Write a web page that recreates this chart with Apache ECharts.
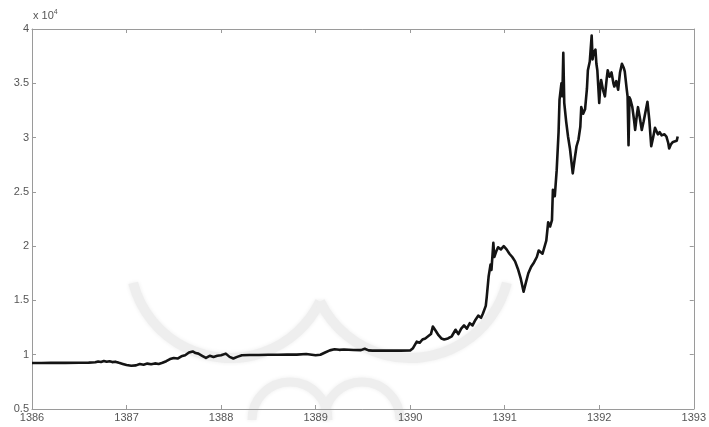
<!DOCTYPE html>
<html>
<head>
<meta charset="utf-8">
<script src="https://cdn.jsdelivr.net/npm/echarts@6/dist/echarts.min.js"></script>
<style>
  html, body { margin: 0; padding: 0; background: #fff; }
  #chart { width: 709px; height: 427px; }
</style>
</head>
<body>
<div id="chart"></div>
<script>
// Time axis (fractional year) and index value
const years = [
  1386.00, 1386.10, 1386.20, 1386.35, 1386.50, 1386.60, 1386.67, 1386.70, 1386.73, 1386.76,
  1386.79, 1386.82, 1386.85, 1386.88, 1386.92, 1386.96, 1387.00, 1387.05, 1387.10, 1387.14,
  1387.18, 1387.22, 1387.26, 1387.30, 1387.34, 1387.38, 1387.42, 1387.46, 1387.50, 1387.54,
  1387.58, 1387.62, 1387.66, 1387.70, 1387.73, 1387.76, 1387.80, 1387.84, 1387.88, 1387.92,
  1387.96, 1388.00, 1388.05, 1388.09, 1388.13, 1388.17, 1388.22, 1388.30, 1388.40, 1388.50,
  1388.60, 1388.70, 1388.80, 1388.90, 1389.00, 1389.05, 1389.10, 1389.15, 1389.20, 1389.25,
  1389.30, 1389.40, 1389.48, 1389.52, 1389.54, 1389.56, 1389.60, 1389.70, 1389.80, 1389.90,
  1390.00, 1390.03, 1390.05, 1390.07, 1390.10, 1390.13, 1390.16, 1390.19, 1390.22, 1390.24,
  1390.27, 1390.30, 1390.33, 1390.36, 1390.40, 1390.44, 1390.48, 1390.51, 1390.54, 1390.57,
  1390.60, 1390.63, 1390.66, 1390.69, 1390.72, 1390.75, 1390.77, 1390.80, 1390.81, 1390.83,
  1390.85, 1390.86, 1390.88, 1390.89, 1390.91, 1390.93, 1390.96, 1390.99, 1391.02, 1391.05,
  1391.08, 1391.11, 1391.14, 1391.17, 1391.20, 1391.22, 1391.25, 1391.28, 1391.31, 1391.34,
  1391.36, 1391.40, 1391.42, 1391.44, 1391.46, 1391.48, 1391.50, 1391.51, 1391.53, 1391.55,
  1391.57, 1391.58, 1391.60, 1391.61, 1391.62, 1391.63, 1391.65, 1391.67, 1391.69, 1391.72,
  1391.74, 1391.76, 1391.78, 1391.80, 1391.81, 1391.83, 1391.85, 1391.87, 1391.88, 1391.90,
  1391.92, 1391.93, 1391.94, 1391.96, 1391.97, 1391.98, 1392.00, 1392.01, 1392.02, 1392.04,
  1392.06, 1392.08, 1392.09, 1392.11, 1392.13, 1392.15, 1392.16, 1392.18, 1392.20, 1392.22,
  1392.24, 1392.26, 1392.27, 1392.29, 1392.30, 1392.31, 1392.32, 1392.33, 1392.35, 1392.37,
  1392.38, 1392.40, 1392.41, 1392.43, 1392.45, 1392.47, 1392.49, 1392.51, 1392.53, 1392.55,
  1392.57, 1392.59, 1392.62, 1392.64, 1392.66, 1392.69, 1392.71, 1392.73, 1392.74, 1392.76,
  1392.78, 1392.80, 1392.82, 1392.83
];
const values = [
  9230, 9240, 9250, 9250, 9260, 9270, 9300, 9380, 9330, 9420,
  9350, 9400, 9320, 9360, 9250, 9150, 9050, 8980, 9020, 9150,
  9080, 9180, 9120, 9200, 9150, 9260, 9400, 9600, 9700, 9650,
  9850, 9950, 10200, 10300, 10150, 10100, 9900, 9700, 9900, 9800,
  9900, 9950, 10100, 9800, 9650, 9800, 9950, 9980, 9970, 9990,
  10000, 10020, 10010, 10060, 9950, 10000, 10200, 10400, 10500, 10450,
  10480, 10430, 10420, 10550, 10700, 10400, 10380, 10380, 10380, 10380,
  10390, 10600, 10900, 11200, 11100, 11400, 11500, 11700, 11900, 12600,
  12200, 11800, 11500, 11400, 11500, 11700, 12300, 11900, 12400, 12700,
  12400, 12900, 12700, 13200, 13600, 13400, 13800, 14500, 15300, 17200,
  18300, 17800, 20300, 19000, 19500, 19900, 19700, 20000, 19700, 19300,
  19000, 18600, 17900, 17000, 15800, 16500, 17500, 18100, 18500, 19000,
  19600, 19300, 19400, 20500, 22200, 21800, 22400, 25200, 24600, 27000,
  30500, 33500, 35000, 33800, 37800, 33200, 31500, 30100, 29000, 26700,
  28000, 29200, 29800, 31000, 32800, 32200, 32600, 34500, 36200, 37000,
  39400, 37200, 37800, 38100, 36800, 36200, 33200, 34600, 35300, 34400,
  33800, 35500, 36200, 35600, 36000, 35000, 34700, 35200, 34400, 36000,
  36800, 36400, 36100, 34500, 33800, 29300, 33700, 33500, 32800, 31500,
  30700, 32200, 32800, 31800, 30700, 31500, 32400, 33300, 31600, 29200,
  30000, 30900, 30300, 30500, 30200, 30300, 30100, 29500, 29000, 29400,
  29600, 29500, 29700, 30100
];
const xTicks = [1386, 1387, 1388, 1389, 1390, 1391, 1392, 1393];
const yTicks = [5000, 10000, 15000, 20000, 25000, 30000, 35000, 40000];
const yScale = 10000;

const axisColor = '#9a9a9a';
const labelColor = '#555';
const fontFamily = 'Liberation Sans, Arial, sans-serif';
const labelFont = { fontFamily: fontFamily, fontSize: 11, color: labelColor };
const markColor = '#eeeeee';

const chart = echarts.init(document.getElementById('chart'), null, { renderer: 'canvas' });

const series = years.map((y, i) => [y, values[i]]);

const boxAxis = (pos, showLabels, isX) => ({
  type: 'value',
  position: pos,
  min: isX ? xTicks[0] : yTicks[0],
  max: isX ? xTicks[xTicks.length - 1] : yTicks[yTicks.length - 1],
  interval: isX ? 1 : 5000,
  axisLine: { show: true, onZero: false, lineStyle: { color: axisColor, width: 1 } },
  axisTick: { show: true, inside: true, length: 4, lineStyle: { color: axisColor } },
  splitLine: { show: false },
  axisLabel: showLabels ? Object.assign({
    show: true,
    margin: 3,
    formatter: isX ? (v) => String(v) : (v) => String(v / yScale)
  }, labelFont) : { show: false }
});

// faint ornamental emblem behind the plot
const ring = (cx, cy, r, a0, a1, w) => ({
  type: 'arc',
  silent: true,
  z: -10,
  shape: { cx: cx, cy: cy, r: r, startAngle: a0, endAngle: a1, clockwise: true },
  style: { stroke: markColor, lineWidth: w, fill: null, shadowBlur: 4, shadowColor: markColor }
});

chart.setOption({
  animation: false,
  backgroundColor: '#ffffff',
  grid: { left: 32, right: 15, top: 29, bottom: 18, containLabel: false },
  xAxis: [boxAxis('bottom', true, true), boxAxis('top', false, true)],
  yAxis: [boxAxis('left', true, false), boxAxis('right', false, false)],
  graphic: [
    ring(230, 258, 100, 0.45, Math.PI * 0.92, 10),
    ring(410, 258, 100, Math.PI * 0.08, Math.PI - 0.45, 10),
    ring(290, 420, 38, Math.PI, Math.PI * 2, 9),
    ring(362, 420, 38, Math.PI, Math.PI * 2, 9),
    {
      type: 'text',
      left: 33,
      top: 9,
      style: {
        text: '{a|x 10}{b|4}',
        rich: {
          a: { fontFamily: fontFamily, fontSize: 11, fill: labelColor },
          b: { fontFamily: fontFamily, fontSize: 7, fill: labelColor, verticalAlign: 'top', padding: [0, 0, 6, 0] }
        }
      }
    }
  ],
  series: [{
    type: 'line',
    data: series,
    xAxisIndex: 0,
    yAxisIndex: 0,
    showSymbol: false,
    lineStyle: { color: '#141414', width: 2.6, join: 'round' },
    z: 5
  }]
});
</script>
</body>
</html>
